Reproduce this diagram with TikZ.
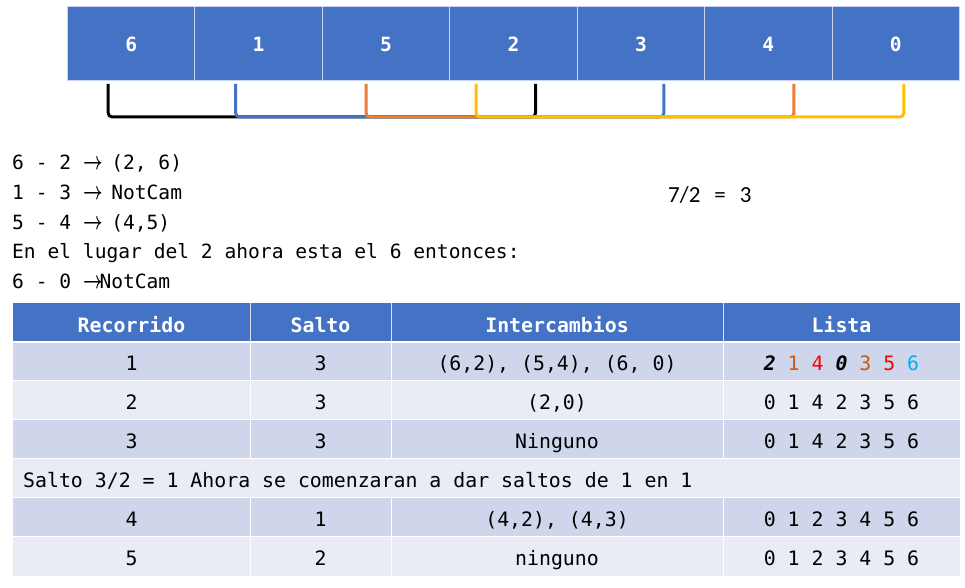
\documentclass[tikz,border=0pt]{standalone}
\usepackage{fontspec}
\setmonofont{DejaVu Sans Mono}[ItalicFont={DejaVu Sans Mono Oblique},BoldItalicFont={DejaVu Sans Mono Bold Oblique}]
\newfontfamily\ratiofont{Carlito}
\usetikzlibrary{calc}
\definecolor{hdblue}{HTML}{4472C4}
\definecolor{bandA}{HTML}{CFD5EA}
\definecolor{bandB}{HTML}{E9EBF5}
\definecolor{brkorange}{HTML}{ED7D31}
\definecolor{brkyellow}{HTML}{FFC000}
\definecolor{numorange}{HTML}{C55A11}
\definecolor{numblue}{HTML}{00B0F0}
\newcommand\notefont{\ttfamily\fontsize{19.6}{29}\selectfont}
\newcommand\tabfont{\ttfamily\fontsize{19.85}{29}\selectfont}
\newcommand\harr{\makebox[16.5pt][l]{\scalebox{0.68}[1]{\fontsize{24.88}{29}\selectfont\boldmath$\rightarrow$}}}
\tikzset{
  cell/.style={fill=hdblue,draw=white!70!hdblue,line width=1pt,minimum width=127.43pt,minimum height=74pt,inner sep=0pt,outer sep=0pt,text=white,font=\notefont\bfseries},
  bkt/.style={line width=3pt,rounded corners=4pt},
  txt/.style={anchor=base west,inner sep=0pt,font=\notefont},
  ctxt/.style={anchor=base,inner sep=0pt,font=\tabfont},
}
\begin{document}
\begin{tikzpicture}[x=1pt,y=-1pt]
    \useasboundingbox (0,0) rectangle (965,588);
    \foreach \v [count=\i] in {6,1,5,2,3,4,0}
    \node[cell] (c\i) at ({67.5+127.43*(\i-0.5)},44) {\raisebox{-2pt}{\v}};
    \draw[bkt,black] ($(c1.south)+(-23,3)$) -- ++(0,33) -| ($(c4.south)+(22,3)$);
    \draw[bkt,hdblue] ($(c2.south)+(-23,3)$) -- ++(0,33) -| ($(c5.south)+(23,3)$);
    \draw[bkt,brkorange] ($(c3.south)+(-20,3)$) -- ++(0,33) -| ($(c6.south)+(25.5,3)$);
    \draw[bkt,brkyellow] ($(c4.south)+(-37.5,3)$) -- ++(0,33) -| ($(c7.south)+(8,3)$);
    \foreach \t [count=\i] in {{6 - 2 \harr{} (2, 6)},{1 - 3 \harr{} NotCam},{5 - 4 \harr{} (4,5)},{En el lugar del 2 ahora esta el 6 entonces:},{6 - 0 \harr{}NotCam}}
    \node[txt] (l\i) at (12,{170+29.5*(\i-1)}) {\t};
    \node[anchor=base west,inner sep=0pt,font=\ratiofont\fontsize{23}{27}\selectfont] (ratio) at (668,202) {7/2\hspace{14pt}=\hspace{14pt}3};
    \fill[hdblue] (13,303) rectangle (960,341);
    \foreach \b/\col in {380.5/bandA,419.5/bandB,458.5/bandA,497.5/bandB,536.5/bandA,575.5/bandB}
    \fill[\col] (13,\b-39) rectangle (960,\b);
    \draw[white,line width=2.5pt] (13,342) -- (960,342);
    \foreach \b in {380.5,419.5,458.5,497.5,536.5}
    \draw[white,line width=1pt] (13,\b) -- (960,\b);
    \foreach \x in {250,391,723}{
    \draw[white!80!hdblue,line width=1pt] (\x,303) -- (\x,341);
    \draw[white,line width=1pt] (\x,343) -- (\x,458.5);
    \draw[white,line width=1pt] (\x,497.5) -- (\x,575.5);}
    \foreach \x/\h in {131.5/Recorrido,320.5/Salto,557/Intercambios,841.5/Lista}
    \node[ctxt,text=white,font=\tabfont\bfseries] (h-\h) at (\x,332) {\h};
    \foreach \y/\r/\s/\c/\l in {370.5/1/3/{(6,2), (5,4), (6, 0)}/{\textbf{\textit{2}} \textcolor{numorange}{1} \textcolor{red}{4} \textbf{\textit{0}} \textcolor{numorange}{3} \textcolor{red}{5} \textcolor{numblue}{6}},
        409.5/2/3/{(2,0)}/{0 1 4 2 3 5 6},
        448.5/3/3/{Ninguno}/{0 1 4 2 3 5 6},
        526.5/4/1/{(4,2), (4,3)}/{0 1 2 3 4 5 6},
        565.5/5/2/{ninguno}/{0 1 2 3 4 5 6}}{
    \node[ctxt] (rec\r) at (131.5,\y) {\r};
    \node[ctxt] (sal\r) at (320.5,\y) {\s};
    \node[ctxt] (int\r) at (557,\y) {\c};
    \node[ctxt] (lis\r) at (841.5,\y) {\l};}
    \node[txt,font=\tabfont] (salto) at (23,487.5) {Salto 3/2 = 1 Ahora se comenzaran a dar saltos de 1 en 1};
\end{tikzpicture}
\end{document}
